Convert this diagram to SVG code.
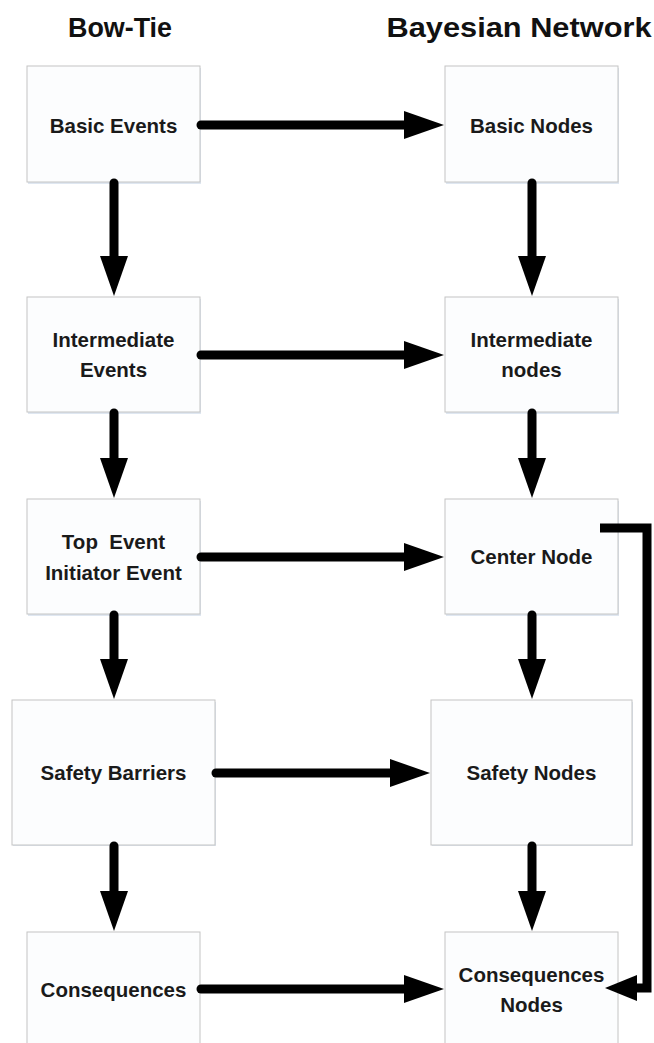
<svg xmlns="http://www.w3.org/2000/svg" width="654" height="1043" viewBox="0 0 654 1043">
<style>
.box{fill:#fcfdfe;stroke:#c4c4c4;stroke-width:1}
.sh{fill:#dfe7f1}
.t{font-family:"Liberation Sans",Arial,sans-serif;font-weight:bold;font-size:20.5px;fill:#1a1a1a;text-anchor:middle;white-space:pre}
.title{font-family:"Liberation Sans",Arial,sans-serif;font-weight:bold;font-size:28px;fill:#111;text-anchor:middle}
.c{fill:none;stroke:#000;stroke-width:9;stroke-linecap:round;marker-end:url(#head)}
</style>
<defs>
<marker id="head" markerUnits="userSpaceOnUse" viewBox="0 0 40 28" markerWidth="40" markerHeight="28" refX="10" refY="14" orient="auto"><polygon points="0,0 40,14 0,28" fill="#000"/></marker>
<marker id="headS" markerUnits="userSpaceOnUse" viewBox="0 0 32 26" markerWidth="32" markerHeight="26" refX="7" refY="13" orient="auto"><polygon points="0,0 32,13 0,26" fill="#000"/></marker>
</defs>
<text class="title" x="120" y="37" textLength="104" lengthAdjust="spacingAndGlyphs">Bow-Tie</text>
<text class="title" x="519" y="37" textLength="265" lengthAdjust="spacingAndGlyphs">Bayesian Network</text>

<g id="n-basic-events"><rect class="sh" x="28" y="68" width="173" height="116"/><rect class="box" x="27" y="66" width="173" height="116"/><text class="t" x="113.5" y="133">Basic Events</text></g>
<g id="n-intermediate-events"><rect class="sh" x="28" y="299" width="173" height="115"/><rect class="box" x="27" y="297" width="173" height="115"/><text class="t" x="113.5" y="347">Intermediate</text><text class="t" x="113.5" y="377">Events</text></g>
<g id="n-top-event"><rect class="sh" x="28" y="501" width="173" height="115"/><rect class="box" x="27" y="499" width="173" height="115"/><text class="t" x="113.5" y="549">Top  Event</text><text class="t" x="113.5" y="580">Initiator Event</text></g>
<g id="n-safety-barriers"><rect class="sh" x="13" y="702" width="203" height="144"/><rect class="box" x="12" y="700" width="203" height="145"/><text class="t" x="113.5" y="780">Safety Barriers</text></g>
<g id="n-consequences"><rect class="box" x="27" y="932" width="173" height="130"/><text class="t" x="113.5" y="997">Consequences</text></g>

<g id="n-basic-nodes"><rect class="sh" x="446" y="68" width="173" height="116"/><rect class="box" x="445" y="66" width="173" height="116"/><text class="t" x="531.5" y="133">Basic Nodes</text></g>
<g id="n-intermediate-nodes"><rect class="sh" x="446" y="299" width="173" height="115"/><rect class="box" x="445" y="297" width="173" height="115"/><text class="t" x="531.5" y="347">Intermediate</text><text class="t" x="531.5" y="377">nodes</text></g>
<g id="n-center-node"><rect class="sh" x="446" y="501" width="173" height="115"/><rect class="box" x="445" y="499" width="173" height="115"/><text class="t" x="531.5" y="564">Center Node</text></g>
<g id="n-safety-nodes"><rect class="sh" x="432" y="702" width="201" height="144"/><rect class="box" x="431" y="700" width="201" height="145"/><text class="t" x="531.5" y="780">Safety Nodes</text></g>
<g id="n-consequences-nodes"><rect class="box" x="445" y="932" width="173" height="130"/><text class="t" x="531.5" y="982">Consequences</text><text class="t" x="531.5" y="1012">Nodes</text></g>

<g id="connectors">
<path class="c" d="M201,125 H414"/>
<path class="c" d="M201,355 H414"/>
<path class="c" d="M201,557 H414"/>
<path class="c" d="M216,773 H400"/>
<path class="c" d="M201,989 H414"/>
<path class="c" d="M114,183 V266"/>
<path class="c" d="M114,413 V468"/>
<path class="c" d="M114,615 V669"/>
<path class="c" d="M114,846 V901"/>
<path class="c" d="M532,183 V266"/>
<path class="c" d="M532,413 V468"/>
<path class="c" d="M532,615 V669"/>
<path class="c" d="M532,846 V901"/>
<path d="M600,528 H647 V988 H630" fill="none" stroke="#000" stroke-width="9" stroke-linecap="butt" stroke-linejoin="miter" marker-end="url(#headS)"/>
</g>
</svg>
